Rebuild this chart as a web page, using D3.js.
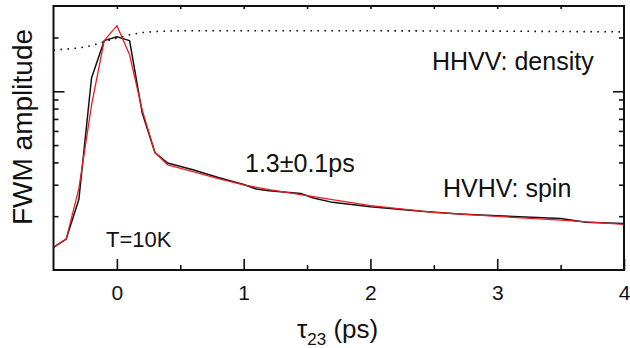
<!DOCTYPE html>
<html>
<head>
<meta charset="utf-8">
<script src="https://cdn.jsdelivr.net/npm/d3@7"></script>
<style>
body { margin: 0; background: #fff; }
svg { display: block; }
text { font-family: "Liberation Sans", Arial, Helvetica, sans-serif; fill: #111; }
</style>
</head>
<body>
<svg id="chart"></svg>
<script>
const WIDTH = 630, HEIGHT = 348;
const PLOT = {left: 53.5, right: 624, top: 6, bottom: 270};

// measured FWM signal (HVHV)
const dataTau = [-0.5, -0.4, -0.3, -0.2, -0.1, 0, 0.1, 0.2, 0.3, 0.4, 0.6, 0.8, 1.0, 1.1, 1.2, 1.45, 1.55, 1.7, 2.0, 2.4, 2.7, 3.0, 3.5, 3.7, 4.0];
const dataValues = [0.134, 0.149, 0.248, 1.186, 1.92, 2.02, 1.92, 0.755, 0.454, 0.397, 0.364, 0.329, 0.301, 0.284, 0.278, 0.268, 0.253, 0.239, 0.226, 0.213, 0.206, 0.201, 0.194, 0.185, 0.182];

// fit, 1.3 ps decay
const fitTau = [-0.5, -0.4, -0.3, -0.2, -0.1, 0, 0.1, 0.2, 0.3, 0.4, 0.6, 0.8, 1.0, 1.2, 1.5, 2.0, 2.5, 3.0, 3.5, 4.0];
const fitValues = [0.134, 0.149, 0.285, 0.836, 1.92, 2.33, 1.60, 0.784, 0.454, 0.388, 0.355, 0.325, 0.299, 0.282, 0.261, 0.229, 0.210, 0.1995, 0.190, 0.180];

// HHVV density (dotted)
const densityTau = [-0.5, -0.3, -0.2, -0.1, 0, 0.1, 0.2, 0.3, 0.5, 1, 2, 3, 4];
const densityValues = [1.70, 1.745, 1.80, 1.896, 1.98, 2.07, 2.13, 2.16, 2.18, 2.18, 2.18, 2.17, 2.15];

const xTicks = [0, 1, 2, 3, 4];
const xMinorTicks = [0.5, 1.5, 2.5, 3.5];
const xTopTicks = [0, 0.5, 1, 1.5, 2, 2.5, 3, 3.5];
const yTicks = [1];
const yMinorTicks = [0.2, 0.3, 0.4, 0.5, 0.6, 0.7, 0.8, 0.9, 2];

let svg = d3.select('#chart').attr('width', WIDTH).attr('height', HEIGHT);

let x = d3.scaleLinear().domain([-0.5, 4]).range([PLOT.left, PLOT.right]);
let y = d3.scaleLog().domain([0.1, 3]).range([PLOT.bottom, PLOT.top]);

function styleAxis(g) {
    g.select('.domain').remove();
    g.selectAll('.tick line').attr('stroke', '#111').attr('stroke-width', 1.6);
}

// bottom
svg.append('g').attr('transform', `translate(0,${PLOT.bottom})`)
    .call(d3.axisBottom(x).tickValues(xTicks).tickSize(-11).tickPadding(15).tickFormat(d3.format('d')))
    .call(styleAxis)
    .selectAll('text').attr('font-size', 21).attr('fill', '#111');
svg.append('g').attr('transform', `translate(0,${PLOT.bottom})`)
    .call(d3.axisBottom(x).tickValues(xMinorTicks).tickSize(-5).tickFormat(''))
    .call(styleAxis);
// top
svg.append('g').attr('transform', `translate(0,${PLOT.top})`)
    .call(d3.axisTop(x).tickValues(xTopTicks).tickSize(-3).tickFormat(''))
    .call(styleAxis);
// left + right
[[d3.axisLeft, PLOT.left], [d3.axisRight, PLOT.right]].forEach(([axisFn, pos]) => {
    svg.append('g').attr('transform', `translate(${pos},0)`)
        .call(axisFn(y).tickValues(yTicks).tickSize(-11).tickFormat(''))
        .call(styleAxis);
    svg.append('g').attr('transform', `translate(${pos},0)`)
        .call(axisFn(y).tickValues(yMinorTicks).tickSize(-5).tickFormat(''))
        .call(styleAxis);
});

let line = d3.line().x(d => x(d[0])).y(d => y(d[1]));

svg.append('path')
    .datum(d3.zip(densityTau, densityValues))
    .attr('d', line)
    .attr('fill', 'none')
    .attr('stroke', '#111')
    .attr('stroke-width', 1.6)
    .attr('stroke-dasharray', '1.6,5.4');

svg.append('path')
    .datum(d3.zip(dataTau, dataValues))
    .attr('d', line)
    .attr('fill', 'none')
    .attr('stroke', '#111')
    .attr('stroke-width', 1.5)
    .attr('stroke-linejoin', 'round');

svg.append('path')
    .datum(d3.zip(fitTau, fitValues))
    .attr('d', line)
    .attr('fill', 'none')
    .attr('stroke', '#ec1c24')
    .attr('stroke-width', 1.3)
    .attr('stroke-linejoin', 'round');

// frame
svg.append('rect')
    .attr('x', PLOT.left).attr('y', PLOT.top)
    .attr('width', PLOT.right - PLOT.left).attr('height', PLOT.bottom - PLOT.top)
    .attr('fill', 'none').attr('stroke', '#111').attr('stroke-width', 2);

// annotations
svg.append('text').attr('x', 432).attr('y', 70).attr('font-size', 25).text('HHVV: density');
svg.append('text').attr('x', 245).attr('y', 172).attr('font-size', 25).text('1.3±0.1ps');
svg.append('text').attr('x', 443).attr('y', 197).attr('font-size', 25).text('HVHV: spin');
svg.append('text').attr('x', 106).attr('y', 247).attr('font-size', 22).text('T=10K');

// axis titles
svg.append('text')
    .attr('transform', 'translate(32,127) rotate(-90)')
    .attr('text-anchor', 'middle')
    .attr('font-size', 28)
    .text('FWM amplitude');

let xTitle = svg.append('text').attr('x', 297).attr('y', 338).attr('font-size', 26);
xTitle.append('tspan').text('τ');
xTitle.append('tspan').attr('font-size', 17).attr('dy', 7).text('23');
xTitle.append('tspan').attr('dy', -7).text(' (ps)');
</script>
</body>
</html>
